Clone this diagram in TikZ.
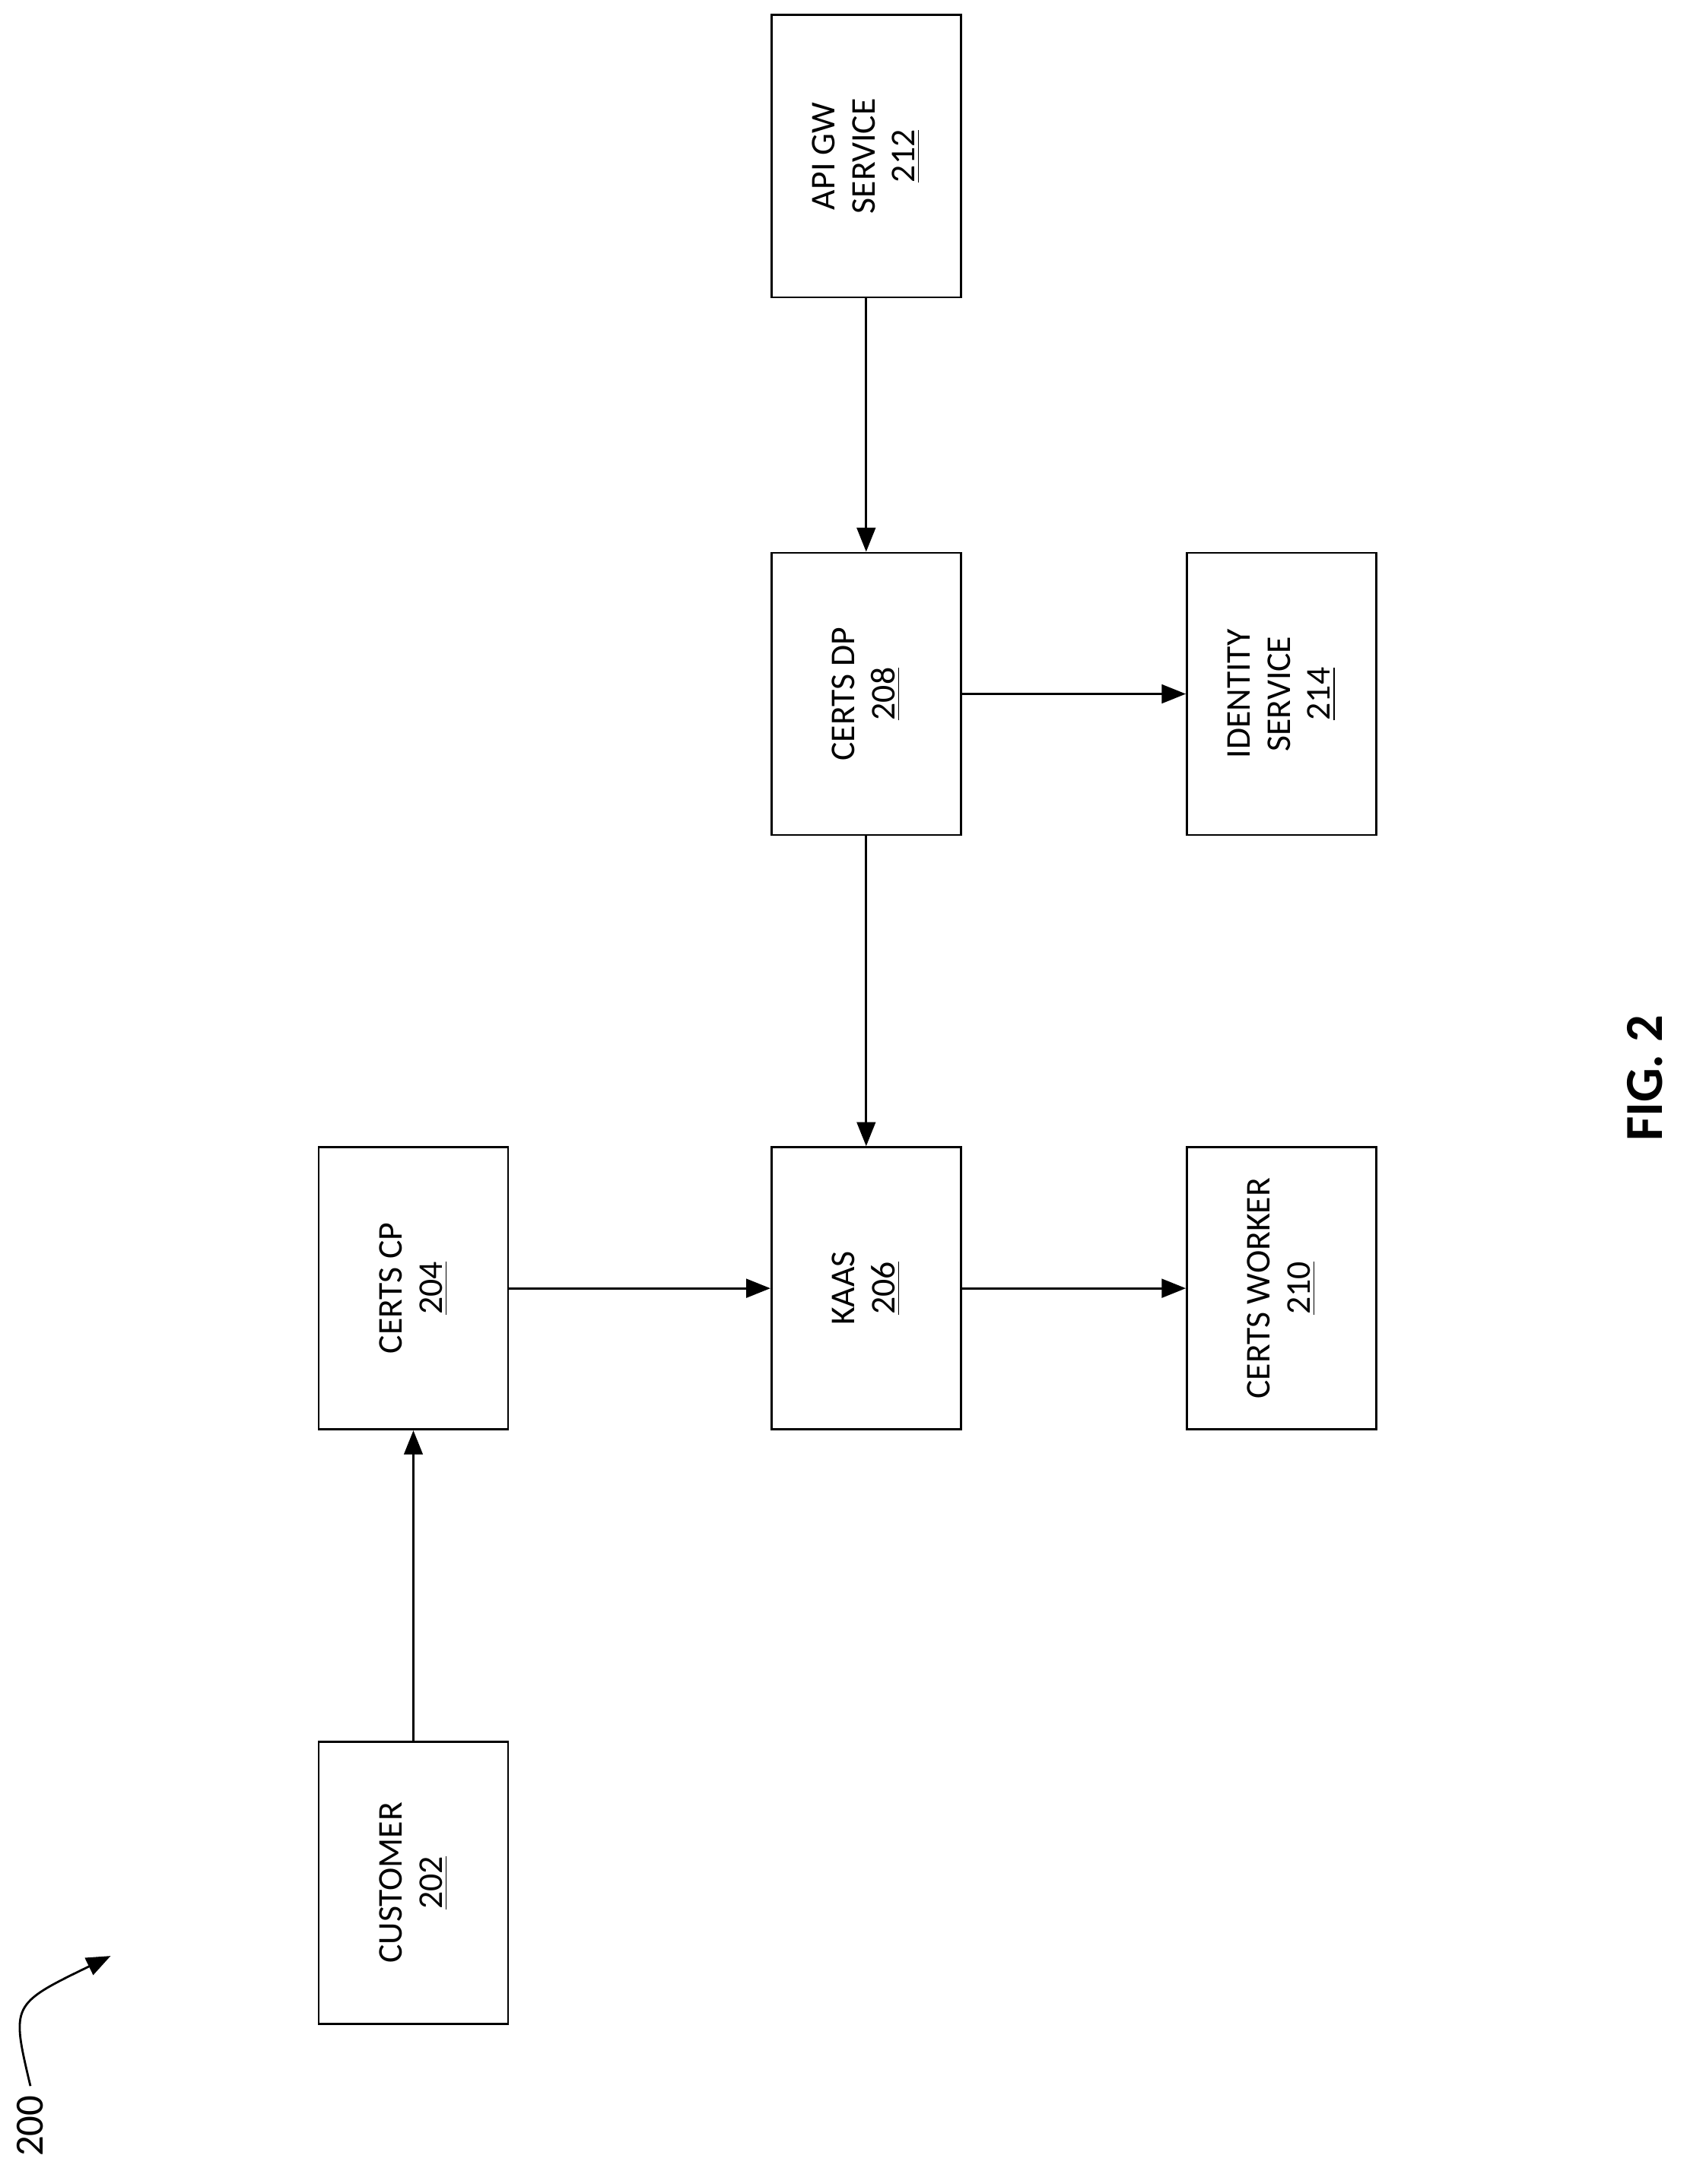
\documentclass[tikz,border=0pt]{standalone}
\usepackage{fontspec}
\setmainfont{Carlito}
\usetikzlibrary{arrows.meta}
\tikzset{
  blk/.style={draw, thick, rotate=90, minimum width=3.71cm, minimum height=2.49cm,
    align=center, font=\fontsize{13}{15}\selectfont},
  flow/.style={thick, -{Triangle[length=9pt,width=7pt]}}
}
\begin{document}
\begin{tikzpicture}[x=0.01818cm, y=-0.01818cm]
        \useasboundingbox (0,0) rectangle (1220,1580);

        % Draw the blocks
        \node[blk] (api) at (626.5,113) {API GW\\SERVICE\\\underline{212}};
        \node[blk] (dp) at (626.5,502) {CERTS DP\\\underline{208}};
        \node[blk] (ident) at (927,502) {IDENTITY\\SERVICE\\\underline{214}};
        \node[blk] (cp) at (299,932) {CERTS CP\\\underline{204}};
        \node[blk] (kaas) at (626.5,932) {KAAS\\\underline{206}};
        \node[blk] (worker) at (927,932) {CERTS WORKER\\\underline{210}};
        \node[blk] (cust) at (299,1362) {CUSTOMER\\\underline{202}};

        % Connect the blocks
        \foreach \a/\b in {api/dp, dp/kaas, dp/ident, cp/kaas, kaas/worker, cust/cp} {
            \draw[flow] (\a) -- (\b);
        }

        % Figure label and reference numeral
        \node[rotate=90, font=\bfseries\fontsize{20}{22}\selectfont] (fig) at (1190,780) {FIG. 2};
        \node[rotate=90, font=\fontsize{15}{17}\selectfont] (num) at (22,1538) {200};
        \coordinate (tip) at (80,1415);
        \draw[thick, -{Triangle[length=9pt,width=7pt]}] (num.east) .. controls (8,1450) .. (tip);
    \end{tikzpicture}
\end{document}
